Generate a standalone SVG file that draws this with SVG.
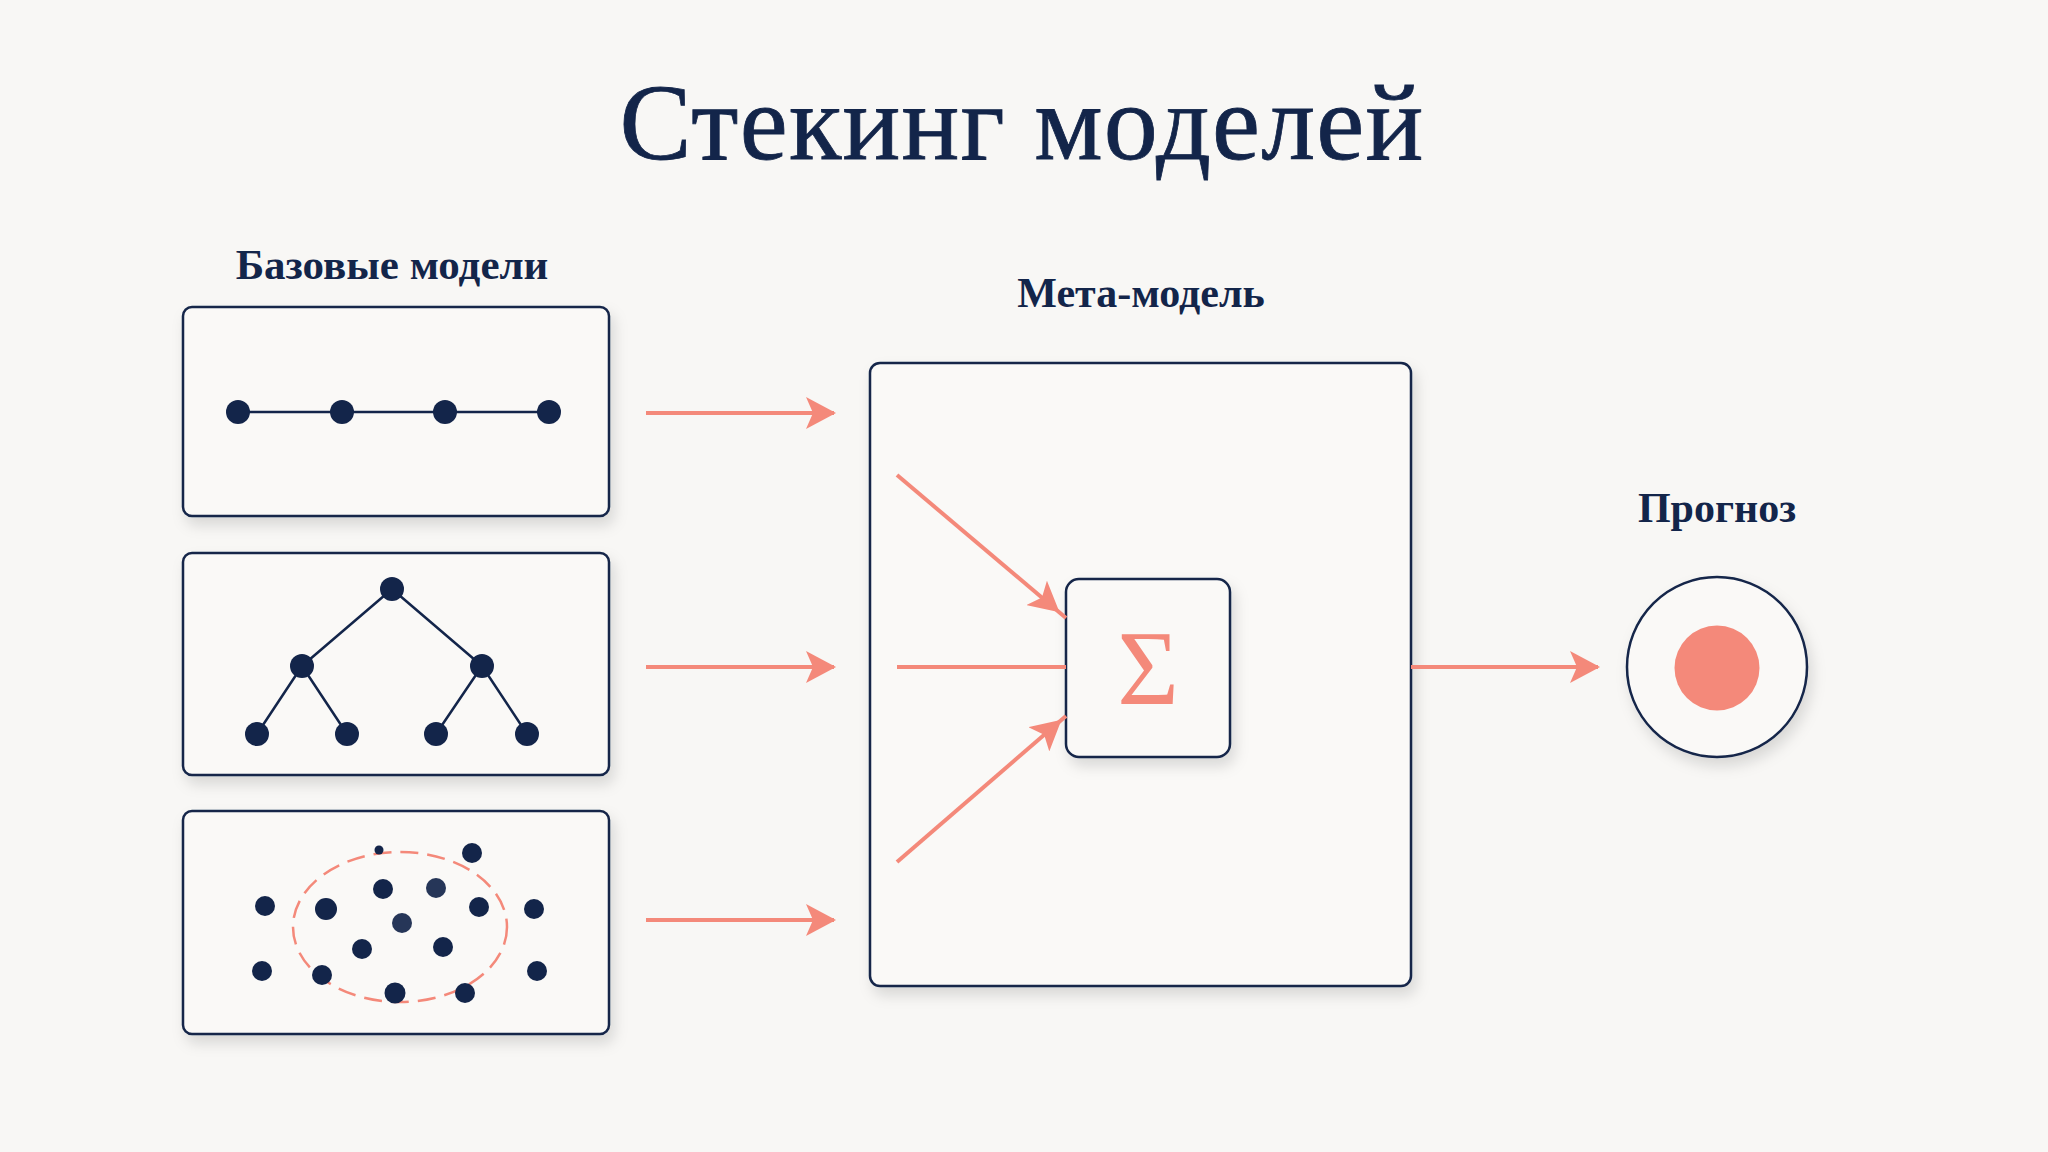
<svg xmlns="http://www.w3.org/2000/svg" width="2048" height="1152" viewBox="0 0 2048 1152">
<defs>
<style>
.bg{fill:#F8F7F5}
.box{fill:#FAF9F7;stroke:#13254A;stroke-width:2.5}
.title{font-family:"Liberation Serif","Times New Roman",serif;fill:#13254A;text-anchor:middle}
.label{font-family:"Liberation Serif","Times New Roman",serif;font-weight:bold;fill:#13254A;text-anchor:middle;font-size:42px}
.dot{fill:#13254A}
.edge{stroke:#13254A;stroke-width:2.5;fill:none}
.arrow{stroke:#F4897A;stroke-width:4;fill:none}
.coral{fill:#F4897A}
</style>
<filter id="sh" x="-20%" y="-20%" width="140%" height="150%">
<feDropShadow dx="4" dy="8" stdDeviation="7" flood-color="#000" flood-opacity="0.13"/>
</filter>
<marker id="ah" viewBox="0 0 30 32" refX="28" refY="16" markerWidth="30" markerHeight="32" markerUnits="userSpaceOnUse" orient="auto">
<path d="M0,0 L30,16 L0,32 L7,16 Z" fill="#F4897A"/>
</marker>
</defs>
<rect class="bg" x="0" y="0" width="2048" height="1152"/>
<text class="title" x="1022" y="159" font-size="108" letter-spacing="1.2" stroke="#13254A" stroke-width="0.8">Стекинг моделей</text>

<g id="base-label"><text class="label" x="392" y="279" font-size="43px" style="font-size:43px">Базовые модели</text></g>

<g id="base-model-1">
<rect class="box" x="183" y="307" width="426" height="209" rx="9" filter="url(#sh)"/>
<line class="edge" x1="238" y1="412" x2="549" y2="412"/>
<circle class="dot" cx="238" cy="412" r="12"/>
<circle class="dot" cx="342" cy="412" r="12"/>
<circle class="dot" cx="445" cy="412" r="12"/>
<circle class="dot" cx="549" cy="412" r="12"/>
</g>

<g id="base-model-2">
<rect class="box" x="183" y="553" width="426" height="222" rx="9" filter="url(#sh)"/>
<path class="edge" d="M392,589 L302,666 M392,589 L482,666 M302,666 L257,734 M302,666 L347,734 M482,666 L436,734 M482,666 L527,734"/>
<circle class="dot" cx="392" cy="589" r="12"/>
<circle class="dot" cx="302" cy="666" r="12"/>
<circle class="dot" cx="482" cy="666" r="12"/>
<circle class="dot" cx="257" cy="734" r="12"/>
<circle class="dot" cx="347" cy="734" r="12"/>
<circle class="dot" cx="436" cy="734" r="12"/>
<circle class="dot" cx="527" cy="734" r="12"/>
</g>

<g id="base-model-3">
<rect class="box" x="183" y="811" width="426" height="223" rx="9" filter="url(#sh)"/>
<ellipse cx="400" cy="927" rx="107" ry="75" fill="none" stroke="#F4897A" stroke-width="2.5" stroke-dasharray="18 9"/>
<circle class="dot" cx="379" cy="850" r="4.5"/>
<circle class="dot" cx="472" cy="853" r="10"/>
<circle class="dot" cx="265" cy="906" r="10"/>
<circle class="dot" cx="326" cy="909" r="11"/>
<circle class="dot" cx="383" cy="889" r="10"/>
<circle class="dot" cx="436" cy="888" r="10" opacity="0.92"/>
<circle class="dot" cx="479" cy="907" r="10"/>
<circle class="dot" cx="534" cy="909" r="10"/>
<circle class="dot" cx="402" cy="923" r="10" opacity="0.92"/>
<circle class="dot" cx="362" cy="949" r="10"/>
<circle class="dot" cx="443" cy="947" r="10"/>
<circle class="dot" cx="262" cy="971" r="10"/>
<circle class="dot" cx="322" cy="975" r="10"/>
<circle class="dot" cx="395" cy="993" r="10.5"/>
<circle class="dot" cx="465" cy="993" r="10"/>
<circle class="dot" cx="537" cy="971" r="10"/>
</g>

<g id="meta-model">
<text class="label" x="1141" y="307">Мета-модель</text>
<rect class="box" x="870" y="363" width="541" height="623" rx="10" filter="url(#sh)"/>
</g>

<g id="sigma">
<rect class="box" x="1066" y="579" width="164" height="178" rx="13" filter="url(#sh)"/>
<text x="1148" y="704" font-family="Liberation Serif, serif" font-size="106" fill="#F4897A" text-anchor="middle">Σ</text>
</g>

<g id="forecast">
<text class="label" x="1717" y="522">Прогноз</text>
<circle cx="1717" cy="667" r="90" fill="#FAF9F7" stroke="#13254A" stroke-width="2.5" filter="url(#sh)"/>
<circle class="coral" cx="1717" cy="668" r="42.5"/>
</g>

<g id="connectors">
<line class="arrow" x1="646" y1="413" x2="834" y2="413" marker-end="url(#ah)"/>
<line class="arrow" x1="646" y1="667" x2="834" y2="667" marker-end="url(#ah)"/>
<line class="arrow" x1="646" y1="920" x2="834" y2="920" marker-end="url(#ah)"/>
<line class="arrow" x1="897" y1="475" x2="1066" y2="618"/>
<line class="arrow" x1="897" y1="475" x2="1058" y2="611" marker-end="url(#ah)" stroke-opacity="0"/>
<line class="arrow" x1="897" y1="667" x2="1066" y2="667"/>
<line class="arrow" x1="897" y1="862" x2="1066" y2="716"/>
<line class="arrow" x1="897" y1="862" x2="1060" y2="721" marker-end="url(#ah)" stroke-opacity="0"/>
<line class="arrow" x1="1411" y1="667" x2="1598" y2="667" marker-end="url(#ah)"/>
</g>
</svg>
